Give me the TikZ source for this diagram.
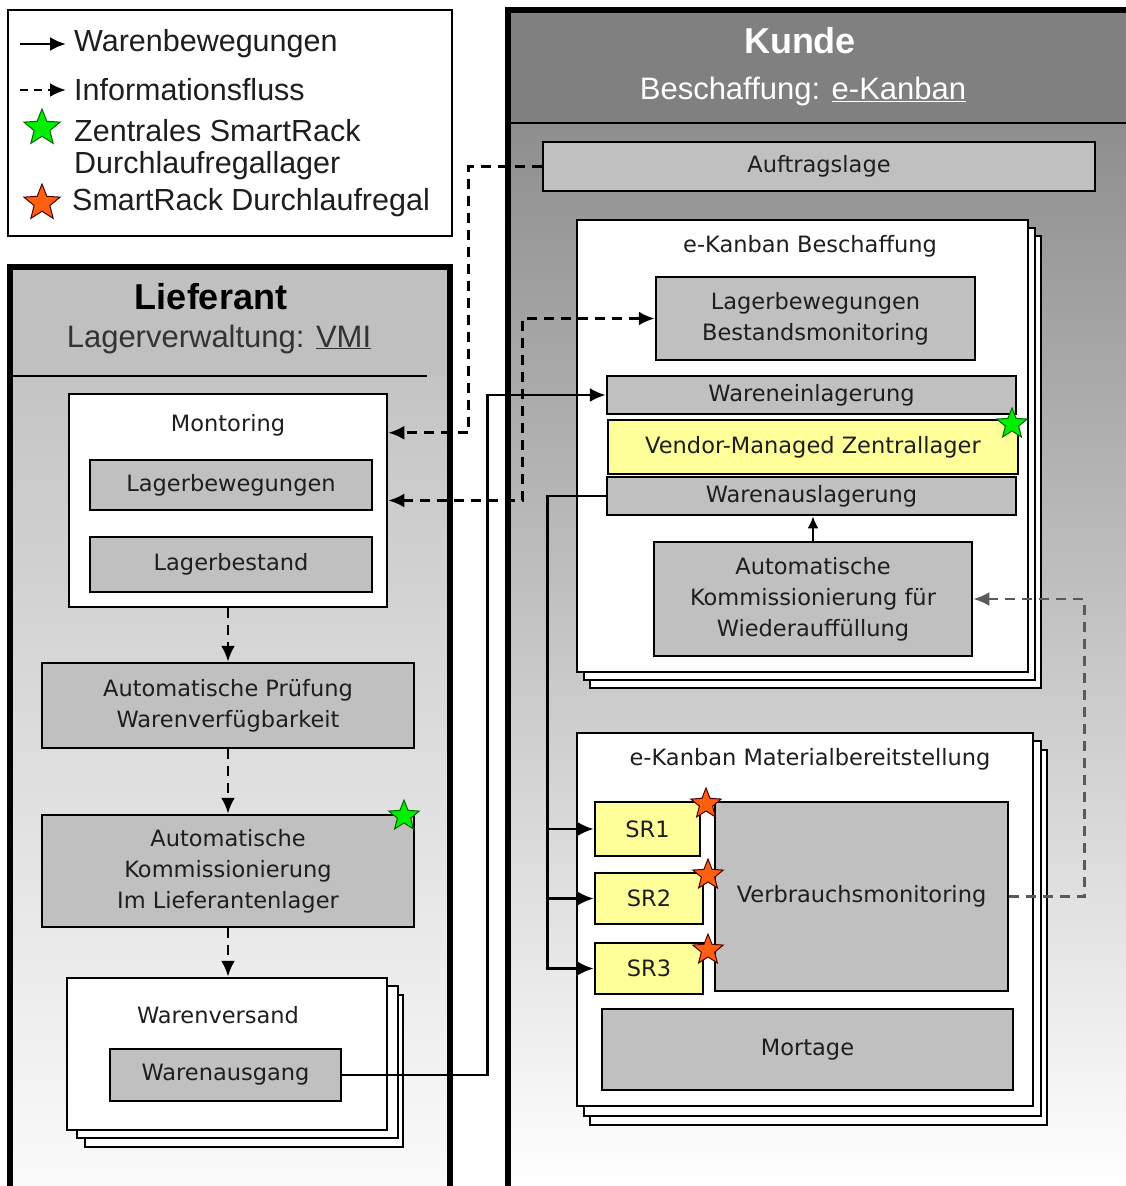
\documentclass[tikz,border=0pt]{standalone}
\usepackage{fontspec}
\setmainfont{Liberation Sans}
\newfontfamily\boxfamily{DejaVu Sans}
\usetikzlibrary{arrows.meta,shapes.geometric,calc}

\definecolor{boxgray}{HTML}{C0C0C0}
\definecolor{sryellow}{HTML}{FFFF99}
\definecolor{kundehead}{HTML}{808080}
\definecolor{kundebody}{HTML}{8E8E8E}
\definecolor{liefbody}{HTML}{C4C4C4}
\definecolor{stargreen}{HTML}{00F000}
\definecolor{starorange}{HTML}{FF6010}
\definecolor{txt}{HTML}{1E1E1E}
\definecolor{infogray}{HTML}{5A5A5A}

\newcommand\boxtxt{\boxfamily\fontsize{22.5}{31}\selectfont}
\newcommand\legtxt{\fontsize{30.5}{36}\selectfont}

% rectangle node given by its corners: style, x1, y1, x2, y2, name, text
\newcommand\placebox[7]{%
  \node[#1, minimum width={#4-#2}, minimum height={#5-#3}] (#6)
    at ({(#2+#4)/2},{(#3+#5)/2}) {#7};}

\begin{document}
\begin{tikzpicture}[x=1pt,y=-1pt,
  tip/.style={-{Latex[length=16pt,width=14pt]}},
  box/.style={draw=black, line width=2.5pt, fill=boxgray, inner sep=0pt,
    align=center, font=\boxtxt, text=txt},
  ybox/.style={box, fill=sryellow},
  wbox/.style={draw=black, line width=2.5pt, fill=white, inner sep=0pt},
  layer/.style={draw=black, line width=2.5pt, fill=white},
  lbl/.style={font=\boxtxt, text=txt, inner sep=0pt},
  legend text/.style={font=\legtxt, text=txt, anchor=west, inner sep=0pt},
  ware/.style={draw=black, line width=2.6pt, tip},
  info/.style={draw=black, line width=2.8pt, dash pattern=on 10pt off 7pt, tip},
  greenstar/.style={star, star points=5, star point ratio=2.3, minimum size=32pt,
    inner sep=0pt, fill=stargreen, draw=black!60!green, line width=1pt},
  orangestar/.style={star, star points=5, star point ratio=2.3, minimum size=32pt,
    inner sep=0pt, fill=starorange, draw=black!70!red, line width=1pt}]

\useasboundingbox (0,0) rectangle (1126,1186);
\clip (0,0) rectangle (1126,1186);
\fill[white] (0,0) rectangle (1126,1186);

% ---------- legend ----------
\draw[line width=2pt, fill=white] (8,10) rectangle (452,236);
\coordinate (lgw1) at (20,44);  \coordinate (lgw2) at (66,44);
\coordinate (lgi1) at (20,90);  \coordinate (lgi2) at (66,90);
\draw[ware] (lgw1) -- (lgw2);
\draw[info, dash pattern=on 8pt off 6pt] (lgi1) -- (lgi2);
\node[legend text] (lg1) at (74,44) {Warenbewegungen};
\node[legend text] (lg2) at (74,90) {Informationsfluss};
\node[greenstar, minimum size=38pt] (lgs1) at (42,128) {};
\node[legend text] (lg3) at (74,131) {Zentrales SmartRack};
\node[legend text] (lg4) at (74,166) {Durchlaufregallager};
\node[orangestar, minimum size=38pt] (lgs2) at (42,203) {};
\node[legend text] (lg5) at (72,203) {SmartRack Durchlaufregal};

% ---------- Lieferant panel ----------
\fill[boxgray] (10,267) rectangle (450,376);
\shade[top color=liefbody, bottom color=white!98!black] (10,376) rectangle (450,1186);
\draw[line width=1.8pt] (13,376) -- (427,376);
\draw[line width=6pt] (10,1200) -- (10,267) -- (450,267) -- (450,1200);
\node[font=\bfseries\fontsize{36}{40}\selectfont, text=black] (lieftitle) at (211,297) {Lieferant};
\node[font=\fontsize{31}{36}\selectfont, text=black!80] (liefsub) at (219,339) {Lagerverwaltung: \underline{VMI}};

\placebox{wbox}{69}{394}{387}{607}{mon}{}
\node[lbl] (montitle) at (228,425) {Montoring};
\placebox{box}{90}{460}{372}{510}{lbw}{Lagerbewegungen}
\placebox{box}{90}{537}{372}{592}{lbs}{Lagerbestand}
\placebox{box}{42}{663}{414}{748}{pruef}{Automatische Prüfung\\Warenverfügbarkeit}
\placebox{box}{42}{815}{414}{927}{kommL}{Automatische\\Kommissionierung\\Im Lieferantenlager}
\node[greenstar] (gsL) at (404,816) {};

\draw[layer] (85,995) rectangle (403,1147);
\draw[layer] (77,986) rectangle (398,1138);
\placebox{wbox}{67}{978}{387}{1130}{versand}{}
\node[lbl] (versandtitle) at (218,1015) {Warenversand};
\placebox{box}{110}{1049}{341}{1101}{ausgang}{Warenausgang}

% ---------- Kunde panel ----------
\fill[kundehead] (508,10) rectangle (1140,123);
\shade[top color=kundebody, bottom color=white] (508,123) rectangle (1140,1186);
\draw[line width=1.8pt] (508,123) -- (1140,123);
\draw[line width=6pt] (508,1200) -- (508,10) -- (1140,10);
\node[font=\bfseries\fontsize{36}{40}\selectfont, text=white] (kundetitle) at (800,41) {Kunde};
\node[font=\fontsize{31}{36}\selectfont, text=white] (kundesub) at (803,91) {Beschaffung: \underline{e-Kanban}};

\placebox{box}{543}{142}{1095}{191}{auftrag}{Auftragslage}

\draw[layer] (590,236) rectangle (1041,688);
\draw[layer] (584,228) rectangle (1035,680);
\placebox{wbox}{577}{220}{1028}{672}{beschaffung}{}
\node[lbl] (beschtitle) at (810,246) {e-Kanban Beschaffung};
\placebox{box}{656}{277}{975}{360}{lbm}{Lagerbewegungen\\Bestandsmonitoring}
\placebox{box}{607}{376}{1016}{414}{einl}{Wareneinlagerung}
\placebox{ybox}{608}{420}{1018}{474}{vmz}{Vendor-Managed Zentrallager}
\placebox{box}{607}{477}{1016}{515}{ausl}{Warenauslagerung}
\placebox{box}{654}{542}{972}{656}{kommK}{Automatische\\Kommissionierung für\\Wiederauffüllung}
\node[greenstar] (gsK) at (1012,424) {};

\draw[layer] (590,750) rectangle (1047,1125);
\draw[layer] (584,741) rectangle (1041,1116);
\placebox{wbox}{577}{733}{1033}{1106}{material}{}
\node[lbl] (mattitle) at (810,759) {e-Kanban Materialbereitstellung};
\placebox{ybox}{595}{802}{700}{856}{sr1}{SR1}
\placebox{ybox}{595}{873}{703}{924}{sr2}{SR2}
\placebox{ybox}{595}{943}{703}{994}{sr3}{SR3}
\placebox{box}{715}{802}{1008}{991}{verb}{Verbrauchsmonitoring}
\placebox{box}{602}{1009}{1013}{1090}{mortage}{Mortage}
\node[orangestar] (os1) at (706,804) {};
\node[orangestar] (os2) at (708,875) {};
\node[orangestar] (os3) at (708,950) {};

% ---------- information flows ----------
\draw[info] (mon.south) -- (mon.south |- pruef.north);
\draw[info] (pruef.south) -- (pruef.south |- kommL.north);
\draw[info] (kommL.south) -- (kommL.south |- versand.north);
\draw[info] (auftrag.west) -- ++(-73,0) |- ([yshift=-40pt]mon.north east);
\draw[info, {Latex[length=16pt,width=14pt]}-{Latex[length=16pt,width=14pt]}]
  (mon.east) -- ++(134,0) |- (lbm.west);
\draw[info, draw=infogray] (verb.east) -- ++(75,0) |- (kommK.east);

% ---------- goods movements ----------
\draw[ware] (ausgang.east) -- ++(145,0) |- (einl.west);
\coordinate (bus) at ([xshift=-58pt]ausl.west);
\draw[ware] (ausl.west) -- (bus) |- (sr1.west);
\draw[ware] (bus) |- (sr2.west);
\draw[ware] (bus) |- (sr3.west);
\draw[ware, -{Latex[length=12pt,width=11pt]}] (kommK.north) -- (kommK.north |- ausl.south);

\end{tikzpicture}
\end{document}
